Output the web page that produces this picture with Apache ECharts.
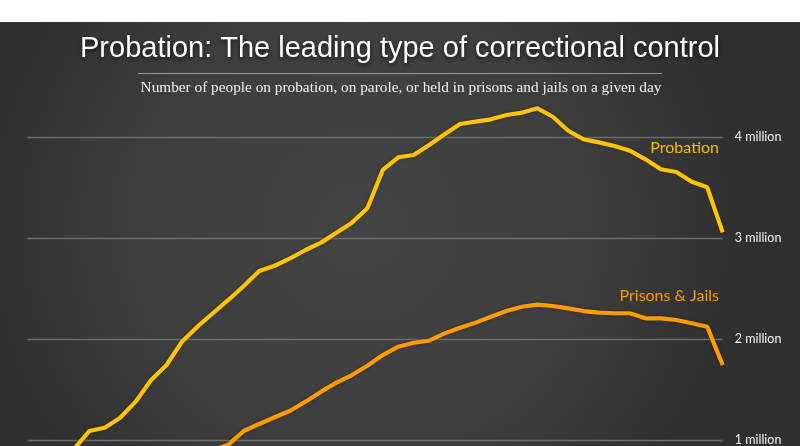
<!DOCTYPE html>
<html>
<head>
<meta charset="utf-8">
<script src="https://cdn.jsdelivr.net/npm/echarts@6/dist/echarts.min.js"></script>
<style>
  html, body { margin: 0; padding: 0; background: #ffffff; overflow: hidden; }
  #wrap { width: 800px; height: 446px; overflow: hidden; position: relative; }
  #chart { width: 800px; height: 560px; }
</style>
</head>
<body>
<div id="wrap"><div id="chart"></div></div>
<script>
// Years (hidden x axis)
const years = [];
for (let y = 1975; y <= 2020; y++) years.push(String(y));

// Values in millions (null = below the visible cropped area, not readable)
const probation = [
  null, null, null, 0.91, 1.089, 1.122, 1.221, 1.380, 1.595, 1.743,
  1.974, 2.123, 2.256, 2.388, 2.526, 2.675, 2.727, 2.801, 2.883, 2.956,
  3.054, 3.154, 3.296, 3.676, 3.802, 3.825, 3.924, 4.030, 4.132, 4.155,
  4.178, 4.221, 4.244, 4.288, 4.204, 4.065, 3.980, 3.950, 3.914, 3.867,
  3.782, 3.683, 3.656, 3.560, 3.504, 3.058
];
const prisonsJails = [
  null, null, null, null, null, null, null, null, null, null,
  null, null, 0.90, 0.954, 1.089, 1.159, 1.225, 1.290, 1.380, 1.479,
  1.568, 1.644, 1.736, 1.842, 1.925, 1.964, 1.984, 2.057, 2.113, 2.163,
  2.222, 2.278, 2.321, 2.341, 2.328, 2.305, 2.278, 2.262, 2.256, 2.256,
  2.206, 2.206, 2.189, 2.157, 2.123, 1.743
];
const tickValues = [1, 2, 3, 4];

const titleText = 'Probation: The leading type of correctional control';
const subtitleText = 'Number of people on probation, on parole, or held in prisons and jails on a given day';

const chart = echarts.init(document.getElementById('chart'));
chart.setOption({
  animation: false,
  backgroundColor: '#ffffff',
  graphic: [
    {
      type: 'rect', z: -100, silent: true,
      shape: { x: 0, y: 22, width: 800, height: 538 },
      style: {
        fill: {
          type: 'radial', x: 0.45, y: 0.38, r: 0.7,
          colorStops: [
            { offset: 0, color: '#444444' },
            { offset: 0.6, color: '#3e3e3e' },
            { offset: 1, color: '#303030' }
          ]
        }
      }
    },
    {
      type: 'text', z: 10, x: 400, y: 48.5,
      style: {
        text: titleText, fill: '#ffffff',
        font: '29px "Liberation Sans Narrow", "Liberation Sans", sans-serif',
        align: 'center', verticalAlign: 'middle',
        textShadowColor: 'rgba(0,0,0,0.7)', textShadowBlur: 4, textShadowOffsetY: 2
      }
    },
    {
      type: 'line', z: 10,
      shape: { x1: 138, y1: 73.5, x2: 662, y2: 73.5 },
      style: { stroke: '#9a9a9a', lineWidth: 1.2 }
    },
    {
      type: 'text', z: 10, x: 401, y: 88,
      style: {
        text: subtitleText, fill: '#f2f2f2',
        font: '15.3px "Liberation Serif", "DejaVu Serif", serif',
        align: 'center', verticalAlign: 'middle'
      }
    },
    {
      type: 'text', z: 10, x: 719, y: 147.5,
      style: {
        text: 'Probation', fill: '#f7bd00',
        font: '16px Lato, "Open Sans", sans-serif',
        align: 'right', verticalAlign: 'middle'
      }
    },
    {
      type: 'text', z: 10, x: 719, y: 296,
      style: {
        text: 'Prisons & Jails', fill: '#f99a00',
        font: '16px Lato, "Open Sans", sans-serif',
        align: 'right', verticalAlign: 'middle'
      }
    }
  ],
  grid: { left: 27.5, right: 77.3, top: 86.85, bottom: 19.1, containLabel: false },
  xAxis: {
    type: 'category', data: years, boundaryGap: false, show: false
  },
  yAxis: {
    type: 'value', position: 'right', min: 0, max: 4.5, interval: 1,
    axisLine: { show: false }, axisTick: { show: false },
    axisLabel: {
      show: true, margin: 12, color: '#f2f2f2',
      fontFamily: 'Lato, "Open Sans", sans-serif', fontSize: 12.5,
      showMaxLabel: false,
      formatter: v => tickValues.includes(v) ? v + ' million' : ''
    },
    splitLine: {
      show: true, showMaxLine: false,
      lineStyle: { color: '#6c6c6c', width: 1.3 }
    }
  },
  series: [
    {
      name: 'Probation', type: 'line', data: probation, symbol: 'none',
      lineStyle: { color: '#ffc400', width: 4.2, shadowColor: 'rgba(0,0,0,0.35)', shadowBlur: 3 },
      itemStyle: { color: '#ffc400' }, z: 3
    },
    {
      name: 'Prisons & Jails', type: 'line', data: prisonsJails, symbol: 'none',
      lineStyle: { color: '#ff9a00', width: 4.2, shadowColor: 'rgba(0,0,0,0.35)', shadowBlur: 3 },
      itemStyle: { color: '#ff9a00' }, z: 3
    }
  ]
});
</script>
</body>
</html>
